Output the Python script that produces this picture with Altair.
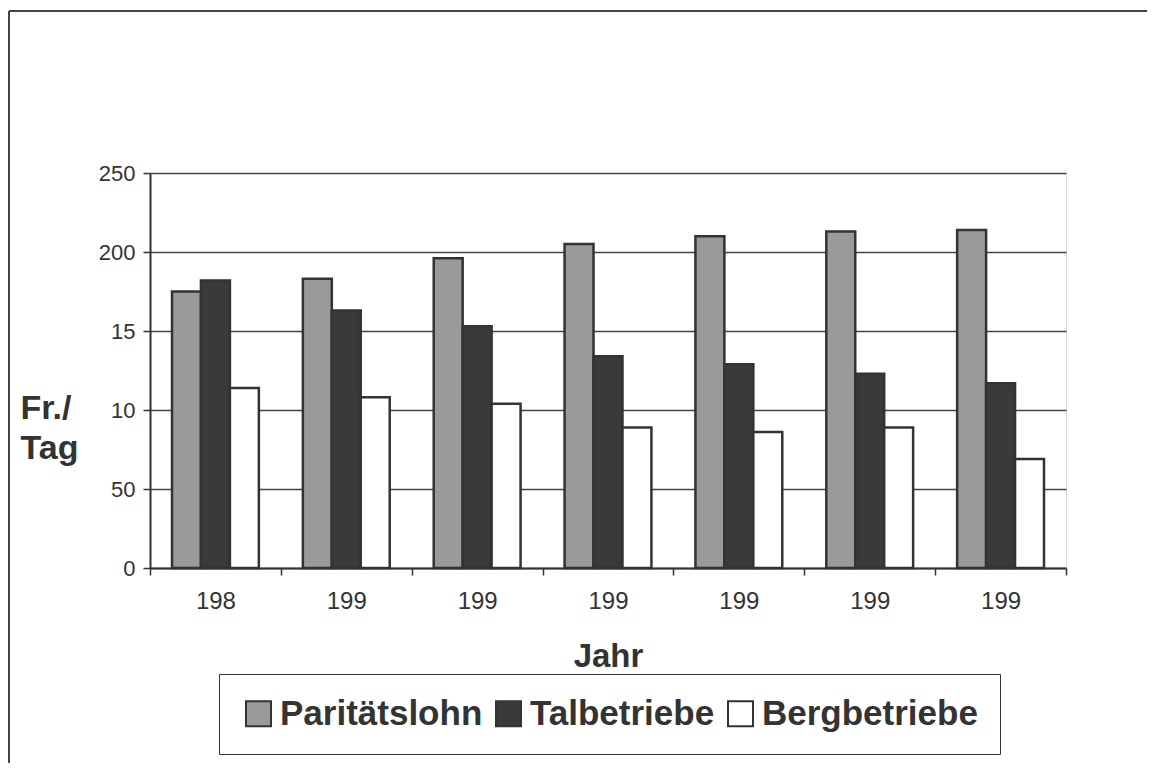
import json
import altair as alt
import pandas as pd

# ---- data ----
group_ids = [0, 1, 2, 3, 4, 5, 6]
year_labels = ["198", "199", "199", "199", "199", "199", "199"]
series = ["Paritätslohn", "Talbetriebe", "Bergbetriebe"]
paritaetslohn = [175, 183, 196, 205, 210, 213, 214]
talbetriebe = [182, 163, 153, 134, 129, 123, 117]
bergbetriebe = [114, 108, 104, 89, 86, 89, 69]
y_tick_values = [0, 50, 100, 150, 200, 250]
y_tick_labels = ["0", "50", "10\u2007", "15\u2007", "200", "250"]
colors = ["#9a9a9a", "#3a3a3a", "#ffffff"]

rows = []
for name, vals in zip(series, [paritaetslohn, talbetriebe, bergbetriebe]):
    for g, v in zip(group_ids, vals):
        rows.append({"g": g, "Serie": name, "Wert": v})
df = pd.DataFrame(rows)

FONT = "Liberation Sans"
INK = "#333333"

bars = alt.Chart(df).mark_bar(stroke=INK, strokeWidth=2.5).encode(
    x=alt.X(
        "g:N",
        scale=alt.Scale(paddingInner=0, paddingOuter=0),
        axis=alt.Axis(
            title="Jahr",
            labelExpr=json.dumps(year_labels) + "[datum.value]",
            labelAngle=0,
            labelFontSize=24,
            labelPadding=14,
            labelColor=INK,
            labelFont=FONT,
            tickBand="extent",
            tickSize=7,
            tickColor=INK,
            tickWidth=1.5,
            domainColor=INK,
            domainWidth=2,
            titleFontSize=33,
            titleFont=FONT,
            titleFontWeight="bold",
            titleColor=INK,
            titleBaseline="alphabetic",
            titleY=98,
        ),
    ),
    xOffset=alt.XOffset("Serie:N", sort=series, scale=alt.Scale(paddingInner=0, paddingOuter=0.76)),
    y=alt.Y(
        "Wert:Q",
        scale=alt.Scale(domain=[0, 250], nice=False),
        axis=alt.Axis(
            values=y_tick_values,
            labelExpr=json.dumps(y_tick_labels) + "[datum.value/50]",
            labelFontSize=22,
            labelPadding=8,
            labelColor=INK,
            labelFont=FONT,
            tickSize=7,
            tickColor=INK,
            tickWidth=1.5,
            domainColor=INK,
            domainWidth=2,
            grid=True,
            gridColor="#444444",
            gridWidth=1.5,
            title=["Fr./", "Tag"],
            titleAngle=0,
            titleAlign="left",
            titleBaseline="alphabetic",
            titleX=-130,
            titleY=245,
            titleFontSize=34,
            titleFont=FONT,
            titleFontWeight="bold",
            titleColor=INK,
            titleLineHeight=40,
        ),
    ),
    color=alt.Color(
        "Serie:N",
        sort=series,
        scale=alt.Scale(domain=series, range=colors),
        legend=alt.Legend(
            title=None,
            orient="none",
            legendX=69,
            legendY=501,
            direction="horizontal",
            symbolType="square",
            symbolSize=625,
            symbolStrokeColor=INK,
            symbolStrokeWidth=2,
            labelFontSize=35,
            labelFont=FONT,
            labelFontWeight="bold",
            labelColor=INK,
            labelLimit=400,
            labelOffset=4,
            columnPadding=8,
            padding=22,
            strokeColor=INK,
        ),
    ),
)

frame_data = pd.DataFrame({"k": [0]})
frame_top = alt.Chart(frame_data).mark_rule(color="#444444", strokeWidth=2).encode(
    x=alt.value(-141), x2=alt.value(1005), y=alt.value(-162)
)
frame_left = alt.Chart(frame_data).mark_rule(color="#444444", strokeWidth=2).encode(
    x=alt.value(-141), y=alt.value(-162), y2=alt.value(602)
)

chart = alt.layer(bars, frame_top, frame_left).properties(
    width=916,
    height=395,
    autosize=alt.AutoSizeParams(type="none"),
    padding={"left": 142, "top": 165, "right": 81, "bottom": 195},
).configure_view(
    stroke=INK, strokeWidth=2
).configure_legend(
    strokeWidth=2
).configure(
    font=FONT
)

chart.save("out.html", embed_options={"renderer": "svg", "actions": False})
